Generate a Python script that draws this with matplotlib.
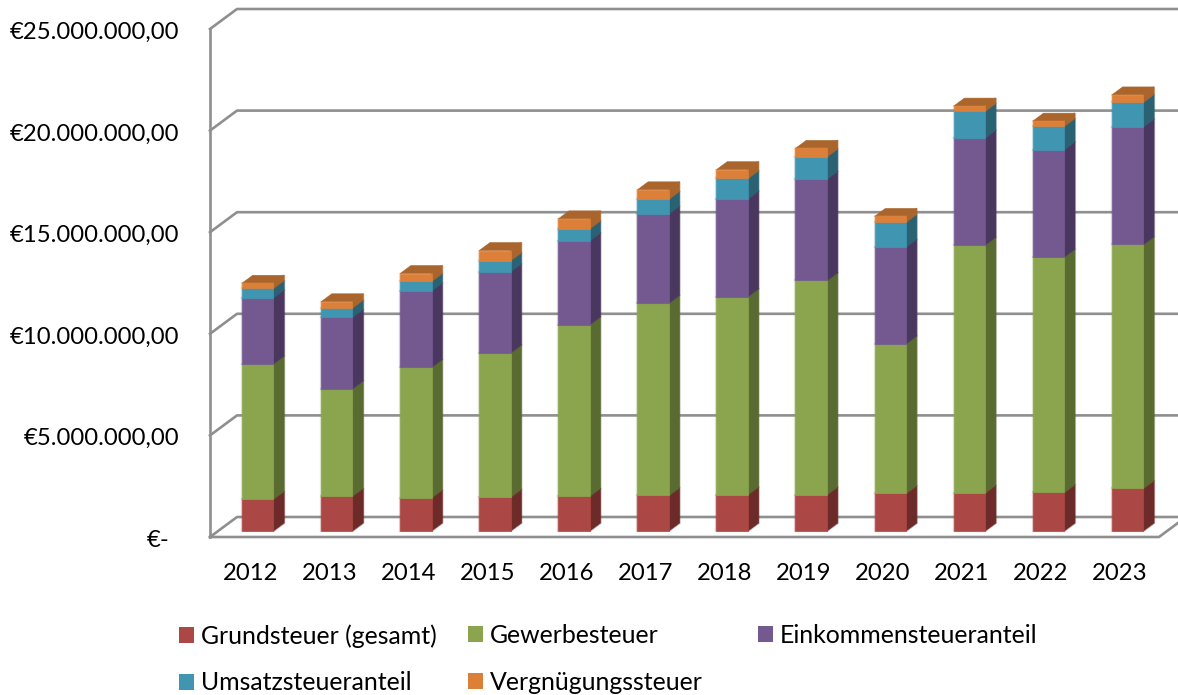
import matplotlib
matplotlib.use("Agg")
import matplotlib.pyplot as plt
from matplotlib.patches import Polygon, Patch
from matplotlib.ticker import FixedLocator, FixedFormatter
from matplotlib.transforms import ScaledTranslation
import matplotlib.patheffects as pe

years = ["2012", "2013", "2014", "2015", "2016", "2017", "2018", "2019", "2020", "2021", "2022", "2023"]
grundsteuer = [1.57e6, 1.72e6, 1.64e6, 1.67e6, 1.72e6, 1.75e6, 1.79e6, 1.79e6, 1.85e6, 1.87e6, 1.90e6, 2.10e6]
gewerbesteuer = [6.66e6, 5.29e6, 6.42e6, 7.10e6, 8.44e6, 9.47e6, 9.75e6, 10.54e6, 7.37e6, 12.21e6, 11.59e6, 12.00e6]
einkommen = [3.25e6, 3.51e6, 3.76e6, 4.00e6, 4.13e6, 4.39e6, 4.81e6, 4.99e6, 4.76e6, 5.27e6, 5.28e6, 5.79e6]
umsatz = [0.46e6, 0.46e6, 0.47e6, 0.54e6, 0.59e6, 0.72e6, 1.00e6, 1.10e6, 1.22e6, 1.31e6, 1.15e6, 1.21e6]
vergnuegung = [0.25e6, 0.30e6, 0.38e6, 0.49e6, 0.48e6, 0.46e6, 0.43e6, 0.41e6, 0.28e6, 0.25e6, 0.25e6, 0.36e6]
series_names = ["Grundsteuer (gesamt)", "Gewerbesteuer", "Einkommensteueranteil", "Umsatzsteueranteil", "Vergnügungssteuer"]
series_values = [grundsteuer, gewerbesteuer, einkommen, umsatz, vergnuegung]
y_ticks = [0, 5e6, 10e6, 15e6, 20e6, 25e6]
y_labels = ["€-", "€5.000.000,00", "€10.000.000,00", "€15.000.000,00", "€20.000.000,00", "€25.000.000,00"]

front = ["#AB4744", "#8AA54E", "#745890", "#4095B1", "#DC8039"]
side = ["#6C2B29", "#5A6B32", "#4A3760", "#2A6173", "#A9652C"]
top_col = "#A9652C"
grid_col = "#8F8F8F"

W, H = 1178, 695
plt.rcParams["font.family"] = ["Lato", "DejaVu Sans"]
FS = 17.2
FS_LEG = 17.9
fig = plt.figure(figsize=(W / 100, H / 100), dpi=100)
L, R, T, B = 210, 1159, 29, 537
ax = fig.add_axes([L / W, 1 - B / H, (R - L) / W, (B - T) / H])
ax.set_xlim(-0.5, 11.5)
ax.set_ylim(0, 25e6)
for s in ax.spines.values():
    s.set_visible(False)
ax.patch.set_visible(False)

ddx = 27 / (R - L) * 12      # depth offset of the chart box, in data units
ddy = 20 / (B - T) * 25e6


def pt(x, v, d):
    return (x + d * ddx, v + d * ddy)


# walls and floor
gk = dict(color=grid_col, lw=1.9, clip_on=False, zorder=1, solid_capstyle="projecting")
for t in y_ticks:
    a, b = pt(-0.5, t, 0), pt(-0.5, t, 1)
    c = pt(11.5, t, 1)
    ax.plot([a[0], b[0], c[0]], [a[1], b[1], c[1]], **gk)
ax.plot([-0.5, -0.5], [0, 25e6], **gk)
ax.plot([-0.5, 11.5, pt(11.5, 0, 1)[0]], [0, 0, pt(11.5, 0, 1)[1]], **gk)

# stacked 3D columns
w = 0.398
d0, d1 = 0.3, 0.7
for i in range(len(years)):
    base = 0.0
    xl, xr = i - w / 2, i + w / 2
    for k, vals in enumerate(series_values):
        topv = base + vals[i]
        ax.add_patch(Polygon([pt(xr, base, d0), pt(xr, base, d1), pt(xr, topv, d1), pt(xr, topv, d0)],
                             fc=side[k], ec=side[k], lw=0.4, zorder=3, clip_on=False,
                             path_effects=[pe.withStroke(linewidth=1.6, foreground=side[k], alpha=0.3)]))
        ax.add_patch(Polygon([pt(xl, base, d0), pt(xr, base, d0), pt(xr, topv, d0), pt(xl, topv, d0)],
                             fc=front[k], ec=front[k], lw=0.4, zorder=4, clip_on=False,
                             path_effects=[pe.withStroke(linewidth=1.6, foreground=front[k], alpha=0.3)]))
        base = topv
    ax.add_patch(Polygon([pt(xl, base, d0), pt(xr, base, d0), pt(xr, base, d1), pt(xl, base, d1)],
                         fc=top_col, ec=top_col, lw=0.4, zorder=3, clip_on=False))

ax.xaxis.set_major_locator(FixedLocator(range(len(years))))
ax.xaxis.set_major_formatter(FixedFormatter(years))
ax.yaxis.set_major_locator(FixedLocator(y_ticks))
ax.yaxis.set_major_formatter(FixedFormatter(y_labels))
ax.tick_params(axis="both", length=0, labelsize=FS, labelcolor="#000000")
ax.tick_params(axis="x", pad=18.7)
ax.tick_params(axis="y", pad=21.9)
fig.canvas.draw()
for n, lab in enumerate(ax.get_yticklabels()):
    shift_x = -10 / 100 if n == 0 else 0
    lab.set_transform(lab.get_transform() + ScaledTranslation(shift_x, -1.4 / 100, fig.dpi_scale_trans))
for lab in ax.get_xticklabels():
    lab.set_transform(lab.get_transform() + ScaledTranslation(0.7 / 100, 0, fig.dpi_scale_trans))

# legend: three columns, filled row by row
fs_px = FS_LEG * 100 / 72
col_x = [179, 468, 758]
for c, x in enumerate(col_x):
    idx = list(range(c, len(series_names), 3))
    handles = [Patch(fc=front[j], ec="none") for j in idx]
    labels = [series_names[j] for j in idx]
    fig.legend(handles, labels, loc="upper left", bbox_to_anchor=(x / W, 1 - 624 / H),
               frameon=False, fontsize=FS_LEG, borderpad=0, borderaxespad=0,
               handlelength=15 / fs_px, handleheight=15 / fs_px, handletextpad=7 / fs_px,
               labelspacing=0.96)

fig.savefig("out.png", dpi=100)
